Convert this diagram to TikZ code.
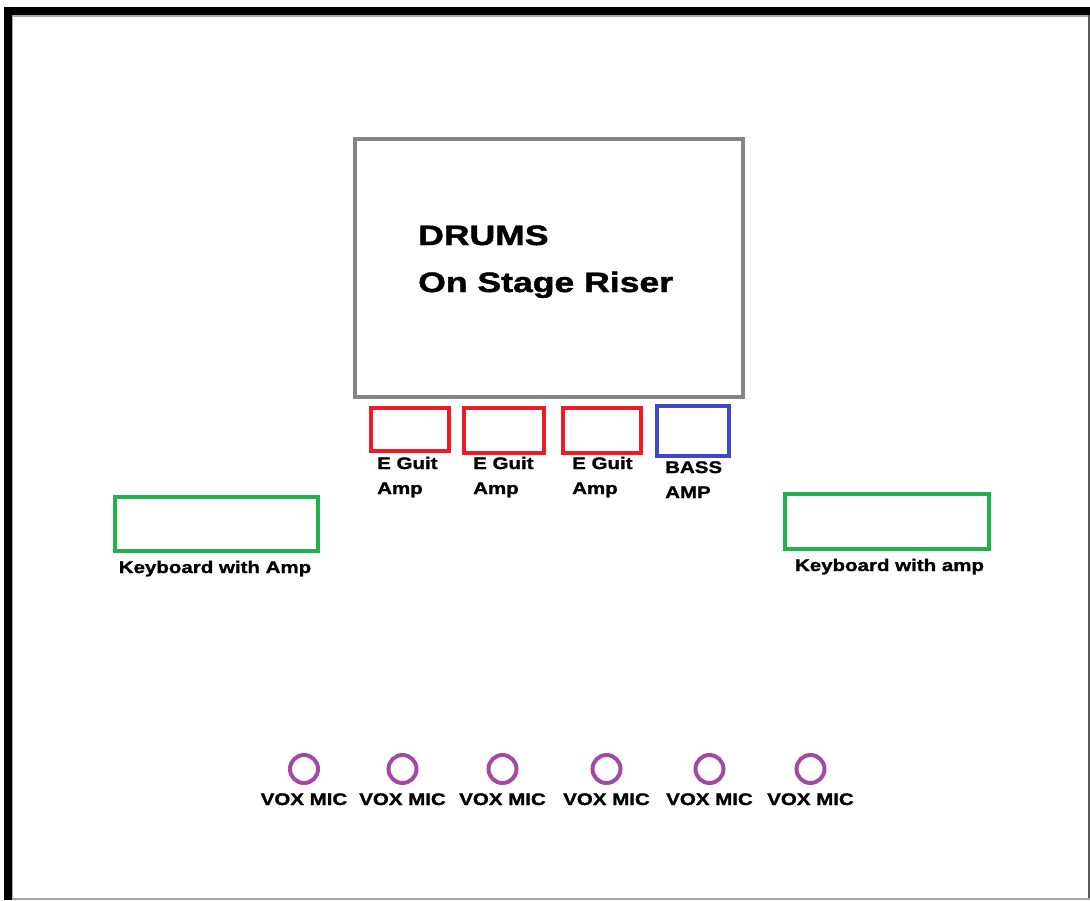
\documentclass[tikz,border=0pt]{standalone}
\usepackage{fontspec}
\newfontfamily\hv[FakeStretch=1.22,FakeBold=1.4]{Liberation Sans}
\newfontfamily\hvbig[FakeStretch=1.27,FakeBold=1.6]{Liberation Sans}
\definecolor{drumgray}{HTML}{858585}
\definecolor{ampred}{HTML}{ED1C24}
\definecolor{bassblue}{HTML}{3F48CC}
\definecolor{keygreen}{HTML}{22B14C}
\definecolor{micpurple}{HTML}{A349A4}
\tikzset{
  box/.style={draw, line width=4pt, inner sep=0pt, outer sep=0pt},
  mic/.style={draw=micpurple, circle, line width=4pt, minimum size=28pt, inner sep=0pt},
  big/.style={inner sep=0pt, font=\hvbig\bfseries\fontsize{28}{34}\selectfont},
  small/.style={inner sep=0pt, font=\hv\bfseries\fontsize{16.8}{20}\selectfont},
}
\begin{document}
\begin{tikzpicture}[x=1pt,y=-1pt]
\useasboundingbox (0,0) rectangle (1090,900);
% frame
\fill[black] (4,7) rectangle (1090,15);
\fill[black] (4,7) rectangle (12,900);
\fill[gray!70] (12,15) rectangle (1088,16.5);
\fill[gray!70] (12,15) rectangle (13,900);
\fill[black!65] (1087.5,15) rectangle (1090,900);
\fill[gray!70] (12,897.5) rectangle (1090,900);
% drums
\node[box, draw=drumgray, minimum width=388pt, minimum height=258pt] (drums) at (549,268) {};
\node[big, anchor=base west] (drumsA) at (418,245) {DRUMS};
\node[big, anchor=base west] (drumsB) at (418,292) {On Stage Riser};
% amps
\node[box, draw=ampred, minimum width=78pt, minimum height=43pt] (amp1) at (410,429.5) {};
\node[box, draw=ampred, minimum width=80pt, minimum height=45pt] (amp2) at (504,430.5) {};
\node[box, draw=ampred, minimum width=78pt, minimum height=45pt] (amp3) at (602,430.5) {};
\node[box, draw=bassblue, minimum width=72pt, minimum height=50pt] (bass) at (693,431) {};
\node[small, anchor=base west] (amp1a) at (377,469) {E Guit};
\node[small, anchor=base west] (amp1b) at (377,494) {Amp};
\node[small, anchor=base west] (amp2a) at (473,469) {E Guit};
\node[small, anchor=base west] (amp2b) at (473,494) {Amp};
\node[small, anchor=base west] (amp3a) at (572,469) {E Guit};
\node[small, anchor=base west] (amp3b) at (572,494) {Amp};
\node[small, anchor=base west] (bassa) at (665,473) {BASS};
\node[small, anchor=base west] (bassb) at (665,498) {AMP};
% keyboards
\node[box, draw=keygreen, minimum width=203pt, minimum height=54pt] (keyL) at (216.5,524) {};
\node[box, draw=keygreen, minimum width=204pt, minimum height=55pt] (keyR) at (887,521.5) {};
\node[small, anchor=base] (keyLl) at (215,573) {Keyboard with Amp};
\node[small, anchor=base] (keyRl) at (889.5,571) {Keyboard with amp};
% mics
\foreach \i/\x in {1/304, 2/402.5, 3/502.5, 4/606.5, 5/709.5, 6/810.5} {
  \node[mic] (mic\i) at (\x,769) {};
  \node[small, anchor=base] (micl\i) at (\x,805) {VOX MIC};
}
\end{tikzpicture}
\end{document}
